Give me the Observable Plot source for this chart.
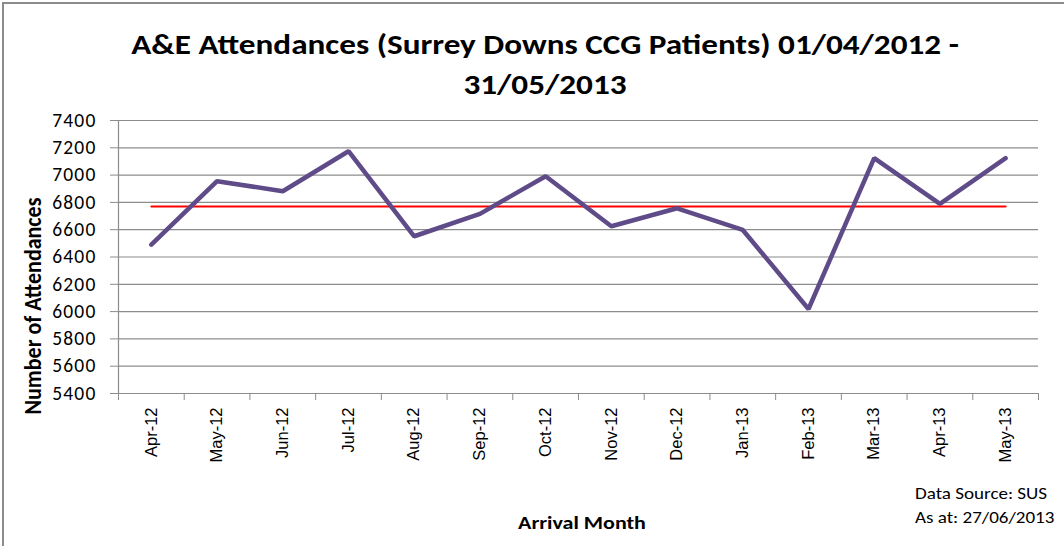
<!DOCTYPE html>
<html>
<head>
<meta charset="utf-8">
<script src="https://cdn.jsdelivr.net/npm/d3@7"></script>
<script src="https://cdn.jsdelivr.net/npm/@observablehq/plot@0.6"></script>
<style>
  html, body { margin: 0; padding: 0; background: #fff; overflow: hidden; }
  #wrap { position: relative; width: 1064px; height: 546px; overflow: hidden; font-family: Carlito, Calibri, Lato, sans-serif; }
  #frame { position: absolute; left: 2px; top: 2px; width: 1100px; height: 600px; border: 2px solid #8c8c8c; box-sizing: border-box; }
  #chart { position: absolute; left: 0; top: 0; }
  #chart g[aria-label="y-axis tick label"] text { letter-spacing: 1.2px; }
  .title { position: absolute; left: 13px; width: 1064px; text-align: center; font-weight: bold; font-size: 28px; color: #000; line-height: 1; transform: scaleX(1.185); transform-origin: 50% 50%; }
  .ylabel { position: absolute; left: 33px; top: 306px; transform: translate(-50%, -50%) scaleX(1.1) rotate(-90deg); white-space: nowrap; font-weight: bold; font-size: 22px; }
  .xlabel { position: absolute; left: 582px; top: 522px; transform: translate(-50%, -50%) scaleX(1.19); white-space: nowrap; font-weight: bold; font-size: 18.5px; }
  .note { position: absolute; left: 915px; transform: translateY(-50%) scaleX(1.19); transform-origin: 0 50%; white-space: nowrap; font-size: 16px; }
</style>
</head>
<body>
<div id="wrap">
  <div id="frame"></div>
  <div id="chart"></div>
  <div class="title" style="top:31px">A&amp;E Attendances (Surrey Downs CCG Patients) 01/04/2012 -</div>
  <div class="title" style="top:71px">31/05/2013</div>
  <div class="ylabel">Number of Attendances</div>
  <div class="xlabel">Arrival Month</div>
  <div class="note" style="top:493px">Data Source: SUS</div>
  <div class="note" style="top:517px">As at: 27/06/2013</div>
</div>
<script>
const months = ["Apr-12","May-12","Jun-12","Jul-12","Aug-12","Sep-12","Oct-12","Nov-12","Dec-12","Jan-13","Feb-13","Mar-13","Apr-13","May-13"];
const attendances = [6490, 6955, 6882, 7175, 6552, 6716, 6992, 6625, 6757, 6598, 6019, 7124, 6789, 7124];
const average = [6770, 6770, 6770, 6770, 6770, 6770, 6770, 6770, 6770, 6770, 6770, 6770, 6770, 6770];
const yTicks = [5400, 5600, 5800, 6000, 6200, 6400, 6600, 6800, 7000, 7200, 7400];

const idx = months.map((m, i) => i);
const bounds = d3.range(-0.5, months.length, 1);
const grey = "#8c8c8c";

const chart = Plot.plot({
  width: 1064,
  height: 546,
  marginTop: 120,
  marginLeft: 118,
  marginRight: 26,
  marginBottom: 153,
  style: { background: "transparent", color: "#000" },
  x: { type: "linear", domain: [-0.5, months.length - 0.5] },
  y: { domain: [5400, 7400] },
  marks: [
    Plot.gridY(yTicks, { stroke: grey, strokeOpacity: 1, strokeWidth: 1.2 }),
    Plot.ruleX([-0.5], { stroke: grey, strokeWidth: 1.2 }),
    Plot.ruleY([5400], { stroke: grey, strokeWidth: 1.2 }),
    Plot.axisY({ ticks: yTicks, tickSize: 8, tickPadding: 14, tickFormat: d => String(d), fontSize: 19.5, label: null, stroke: grey, fontFamily: "Carlito, Calibri, Lato, sans-serif" }),
    Plot.axisX({ ticks: idx, tickSize: 0, tickPadding: 14, tickRotate: -90, tickFormat: i => months[i], fontSize: 16.5, label: null, fontFamily: "'Liberation Sans', Arial, sans-serif" }),
    Plot.axisX({ ticks: bounds, tickSize: 7, tickFormat: () => "", label: null, stroke: grey }),
    Plot.lineY(average, { x: (d, i) => i, y: d => d, stroke: "#ff0000", strokeWidth: 2 }),
    Plot.lineY(attendances, { x: (d, i) => i, y: d => d, stroke: "#5e4b88", strokeWidth: 4.5, strokeLinejoin: "miter" })
  ]
});
document.getElementById("chart").appendChild(chart);
</script>
</body>
</html>
